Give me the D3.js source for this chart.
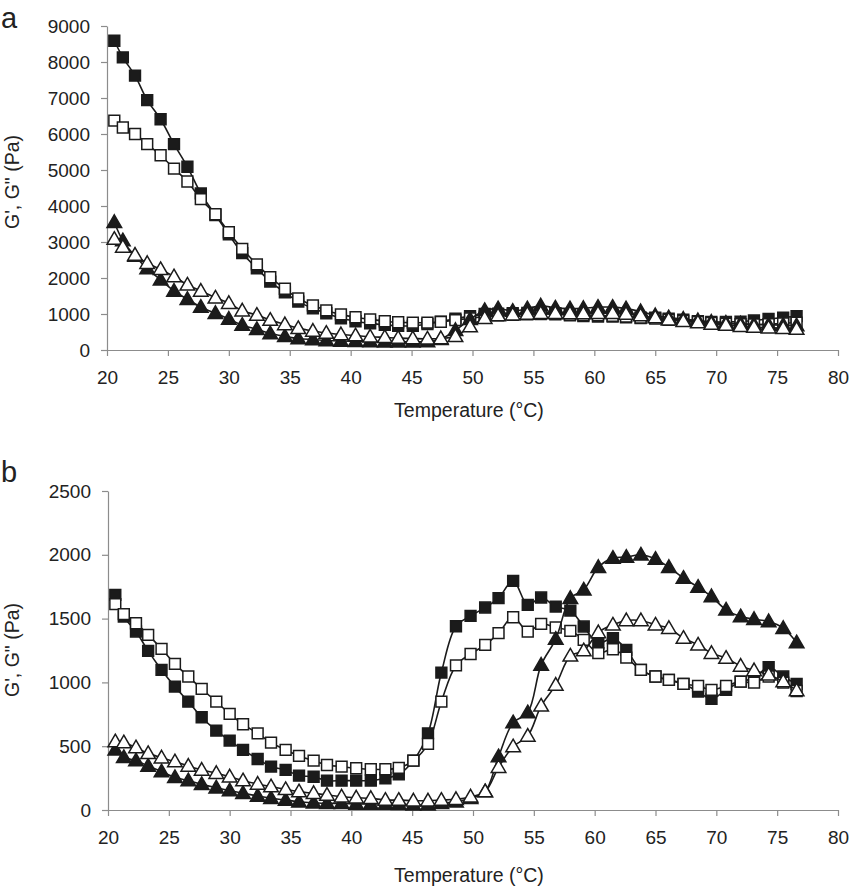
<!DOCTYPE html>
<html>
<head>
<meta charset="utf-8">
<script src="https://cdn.jsdelivr.net/npm/d3@7"></script>
<style>
  body { margin: 0; background: #fff; }
  text { font-family: "Liberation Sans", Arial, sans-serif; fill: #222; }
</style>
</head>
<body>
<div id="chart"></div>
<script>
// temperatures (°C) shared by every series
var temps = [20.6, 21.3, 22.3, 23.3, 24.4, 25.5, 26.6, 27.7, 28.9, 30.0,
             31.1, 32.3, 33.4, 34.6, 35.7, 36.9, 38.0, 39.2, 40.4, 41.6,
             42.8, 43.9, 45.1, 46.3, 47.4, 48.6, 49.8, 51.0, 52.1, 53.3,
             54.5, 55.6, 56.8, 58.0, 59.1, 60.3, 61.5, 62.6, 63.8, 65.0,
             66.1, 67.3, 68.5, 69.6, 70.8, 72.0, 73.1, 74.3, 75.5, 76.6];

// panel a (Pa)
var aFilledSquare = [8590, 8130, 7620, 6940, 6410, 5720, 5090, 4350, 3750, 3210,
                     2690, 2270, 1900, 1600, 1345, 1160, 1020, 880, 800, 740,
                     700, 670, 670, 720, 790, 870, 940, 1000, 1010, 1020,
                     1030, 1050, 1020, 960, 940, 930, 930, 910, 890, 900,
                     870, 840, 800, 780, 780, 790, 820, 860, 900, 940];
var aOpenSquare = [6370, 6180, 6000, 5720, 5410, 5040, 4680, 4190, 3770, 3270,
                   2810, 2380, 2020, 1700, 1430, 1240, 1100, 990, 910, 850,
                   800, 770, 760, 760, 780, 830, 880, 930, 960, 980,
                   990, 1000, 990, 980, 970, 960, 950, 930, 900, 870,
                   840, 810, 780, 750, 730, 720, 710, 720, 740, 760];
var aFilledTri = [3550, 3040, 2610, 2260, 1950, 1640, 1410, 1190, 1020, 860,
                  690, 575, 460, 380, 320, 290, 265, 250, 240, 235,
                  230, 230, 230, 235, 300, 550, 850, 1100, 1150, 1080,
                  1150, 1230, 1170, 1150, 1160, 1190, 1190, 1150, 1070, 960,
                  900, 860, 820, 780, 750, 730, 710, 700, 690, 680];
var aOpenTri = [3080, 2860, 2640, 2410, 2240, 2040, 1810, 1640, 1450, 1300,
                1090, 970, 830, 710, 600, 530, 470, 430, 400, 370,
                350, 330, 320, 310, 320, 380, 650, 880, 960, 980,
                1000, 1020, 1020, 1010, 1010, 1020, 1020, 1000, 960, 900,
                840, 800, 760, 720, 690, 660, 640, 620, 600, 580];

// panel b (Pa)
var bFilledSquare = [1686, 1516, 1399, 1247, 1098, 967, 849, 727, 622, 544,
                     471, 400, 340, 314, 269, 261, 230, 230, 230, 230,
                     249, 280, 387, 601, 1077, 1440, 1521, 1587, 1660, 1796,
                     1608, 1665, 1594, 1563, 1438, 1307, 1347, 1255, 1098, 1046,
                     1020, 988, 928, 871, 941, 1006, 1033, 1119, 1046, 988];
var bOpenSquare = [1613, 1535, 1464, 1372, 1263, 1145, 1046, 949, 849, 753,
                   672, 601, 528, 471, 424, 387, 353, 340, 327, 319,
                   319, 330, 387, 518, 849, 1133, 1223, 1294, 1386, 1511,
                   1398, 1459, 1430, 1404, 1333, 1229, 1260, 1194, 1098, 1046,
                   1020, 988, 972, 941, 972, 1006, 998, 1046, 998, 933];
var bFilledTri = [471, 413, 387, 345, 301, 256, 230, 201, 175, 152,
                  131, 110, 92, 78, 65, 57, 52, 52, 47, 47,
                  47, 45, 40, 40, 52, 65, 92, 144, 418, 685,
                  763, 1137, 1339, 1660, 1725, 1903, 1974, 1982, 2000, 1966,
                  1903, 1817, 1747, 1673, 1569, 1516, 1495, 1477, 1425, 1312];
var bOpenTri = [536, 528, 489, 444, 410, 379, 345, 314, 288, 261,
                230, 204, 183, 162, 144, 131, 118, 104, 96, 92,
                78, 78, 73, 73, 78, 84, 104, 144, 335, 497,
                580, 816, 980, 1208, 1249, 1391, 1451, 1485, 1485, 1451,
                1425, 1347, 1294, 1229, 1190, 1129, 1093, 1059, 1006, 936];

var xTicks = [20, 25, 30, 35, 40, 45, 50, 55, 60, 65, 70, 75, 80];
var aYTicks = [0, 1000, 2000, 3000, 4000, 5000, 6000, 7000, 8000, 9000];
var bYTicks = [0, 500, 1000, 1500, 2000, 2500];
var xTitle = "Temperature (°C)";
var yTitle = "G', G\" (Pa)";

var totalWidth = 850, totalHeight = 887;
var svg = d3.select("#chart").append("svg")
    .attr("width", totalWidth)
    .attr("height", totalHeight);

var axisColor = "#8c8c8c";
var ink = "#1b1b1b";

// marker styles per series
var markers = [
  {type: d3.symbolSquare, size: 118, fill: ink},
  {type: d3.symbolSquare, size: 118, fill: "#fff"},
  {type: d3.symbolTriangle, size: 92, fill: ink},
  {type: d3.symbolTriangle, size: 92, fill: "#fff"}
];

function drawPanel(p, series, yTicks) {
  var x = d3.scaleLinear().domain([20, 80]).range([p.left, p.right]);
  var y = d3.scaleLinear().domain([0, yTicks[yTicks.length - 1]]).range([p.bottom, p.top]);

  var g = svg.append("g");

  // panel letter
  g.append("text")
    .attr("x", 1).attr("y", p.letterY)
    .style("font-size", "29px")
    .text(p.letter);

  // x axis
  var xAxis = g.append("g")
    .attr("transform", "translate(0," + p.bottom + ")")
    .call(d3.axisBottom(x).tickValues(xTicks).tickSize(6).tickSizeOuter(0).tickPadding(15));
  // y axis
  var yAxis = g.append("g")
    .attr("transform", "translate(" + p.left + ",0)")
    .call(d3.axisLeft(y).tickValues(yTicks).tickFormat(d3.format("d"))
      .tickSize(6).tickSizeOuter(0).tickPadding(11));

  [xAxis, yAxis].forEach(function(ax) {
    ax.select(".domain").attr("stroke", axisColor).attr("stroke-width", 1.2);
    ax.selectAll(".tick line").attr("stroke", axisColor).attr("stroke-width", 1.2);
    ax.selectAll(".tick text")
      .style("font-size", "19px")
      .style("font-family", "'Liberation Sans', Arial, sans-serif")
      .attr("fill", "#222");
  });

  // axis titles
  g.append("text")
    .attr("x", 469)
    .attr("y", p.titleY)
    .style("font-size", "19.5px")
    .style("text-anchor", "middle")
    .text(xTitle);
  g.append("text")
    .attr("transform", "translate(19," + p.yTitleMid + ") rotate(-90)")
    .style("font-size", "19.5px")
    .style("text-anchor", "middle")
    .text(yTitle);

  var line = d3.line()
    .x(function(d, i) { return x(temps[i]); })
    .y(function(d) { return y(d); })
    .curve(d3.curveCatmullRom.alpha(0.5));

  series.forEach(function(vals, k) {
    var m = markers[k];
    g.append("path")
      .datum(vals)
      .attr("d", line)
      .attr("fill", "none")
      .attr("stroke", ink)
      .attr("stroke-width", 1.6);

    g.selectAll(".m" + k)
      .data(vals)
      .enter()
      .append("path")
        .attr("class", "m" + k)
        .attr("d", d3.symbol().type(m.type).size(m.size))
        .attr("transform", function(d, i) {
          var dy = m.type === d3.symbolTriangle ? 1 : 0;
          return "translate(" + x(temps[i]) + "," + (y(d) + dy) + ")";
        })
        .attr("fill", m.fill)
        .attr("stroke", ink)
        .attr("stroke-width", 1.5);
  });
}

drawPanel({letter: "a", letterY: 28, top: 26, bottom: 350, left: 107, right: 838,
           titleY: 417, yTitleMid: 182},
          [aFilledSquare, aOpenSquare, aFilledTri, aOpenTri], aYTicks);
drawPanel({letter: "b", letterY: 482, top: 491, bottom: 810, left: 108, right: 838,
           titleY: 882, yTitleMid: 650},
          [bFilledSquare, bOpenSquare, bFilledTri, bOpenTri], bYTicks);
</script>
</body>
</html>
